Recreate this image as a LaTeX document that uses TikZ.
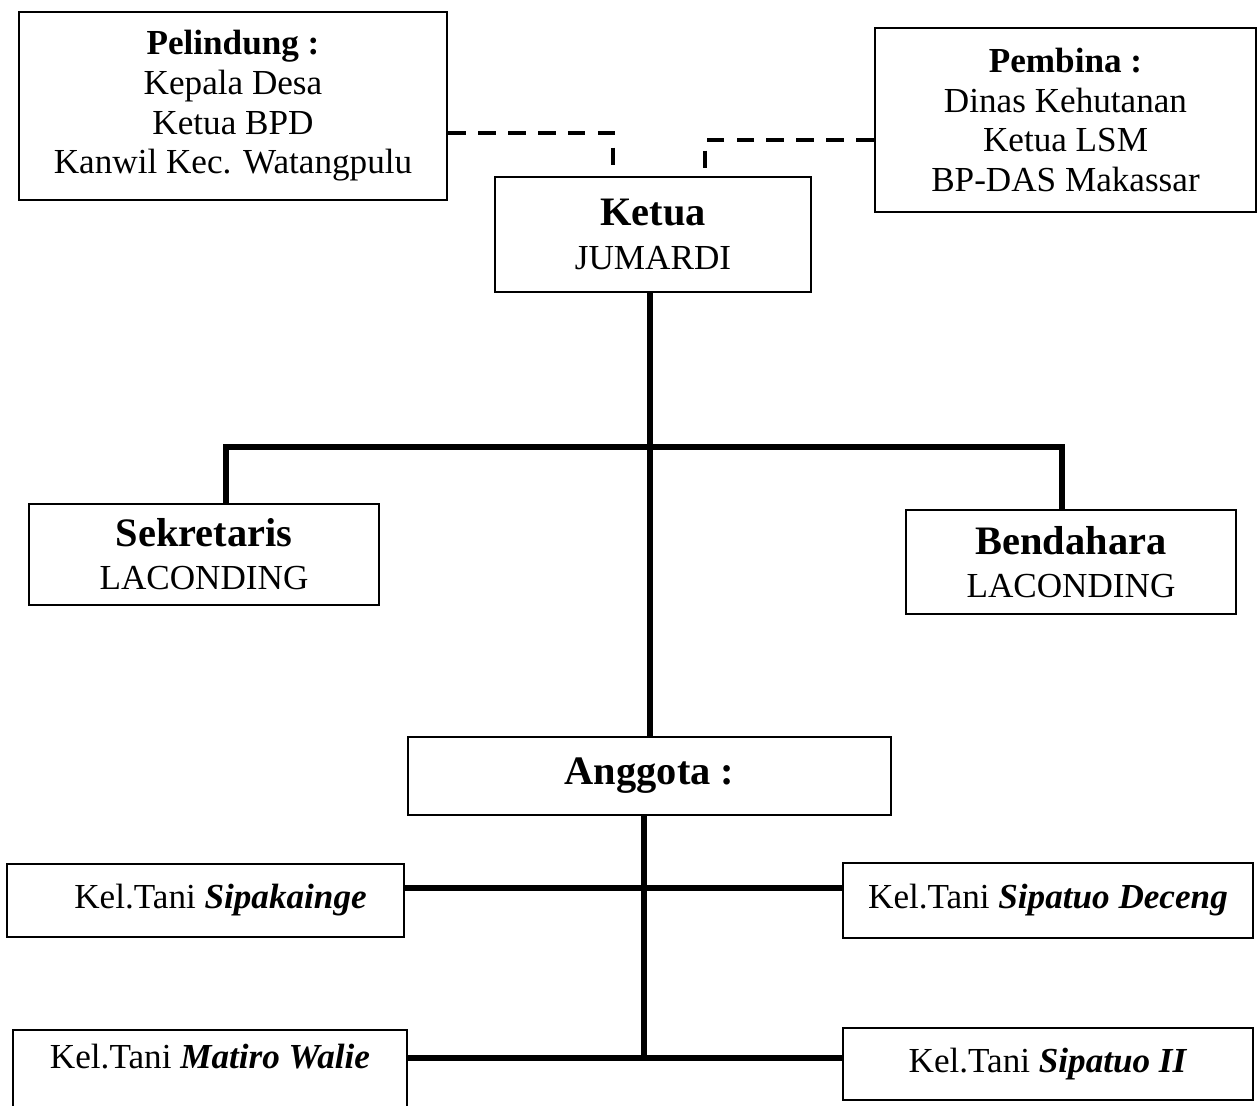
\documentclass[tikz,border=0pt]{standalone}
\usepackage{fontspec}
\setmainfont{Liberation Serif}
\usetikzlibrary{calc}
\newcommand{\jabatan}[1]{{\bfseries\fontsize{11.5}{13}\selectfont #1}}

\begin{document}
\begin{tikzpicture}
	\tikzstyle{every node}=[draw, shape=rectangle, line width=0.8pt, inner sep=0pt, align=center, font=\fontsize{10}{11.3}\selectfont];
	\tikzstyle{tree}=[line width=1.5pt];
	\tikzstyle{garis}=[line width=1pt, dash pattern=on 5pt off 3.5pt];
	\useasboundingbox (0,0) rectangle (12.58,-11.06);
	% pelindung dan pembina
	\node [minimum width=4.28cm, minimum height=1.88cm] (pelindung) at (2.33,-1.06) {\textbf{Pelindung :}\\Kepala Desa\\Ketua BPD\\Kanwil Kec. Watangpulu};
	\node [minimum width=3.81cm, minimum height=1.84cm] (pembina) at (10.655,-1.20) {\textbf{Pembina :}\\Dinas Kehutanan\\Ketua LSM\\BP-DAS Makassar};
	% pengurus
	\node [minimum width=3.16cm, minimum height=1.15cm] (ketua) at (6.53,-2.345) {\jabatan{Ketua}\\[1pt]JUMARDI};
	\node [minimum width=3.50cm, minimum height=1.01cm] (sekretaris) at (2.04,-5.545) {\jabatan{Sekretaris}\\[1pt]LACONDING};
	\node [minimum width=3.30cm, minimum height=1.04cm] (bendahara) at (10.71,-5.62) {\jabatan{Bendahara}\\[1pt]LACONDING};
	\node [minimum width=4.83cm, minimum height=0.78cm] (anggota) at (6.495,-7.76) {\jabatan{Anggota :}};
	% kelompok tani
	\node [minimum width=3.97cm, minimum height=0.73cm] (sipakainge) at (2.055,-9.005) {\hspace*{0.3cm}Kel.Tani \textbf{\textit{Sipakainge}}};
	\node [minimum width=4.10cm, minimum height=0.75cm] (deceng) at (10.48,-9.005) {Kel.Tani \textbf{\textit{Sipatuo Deceng}}};
	\node [minimum width=3.94cm, minimum height=0.80cm, text depth=0.27cm] (matiro) at (2.10,-10.70) {Kel.Tani \textbf{\textit{Matiro Walie}}};
	\node [minimum width=4.10cm, minimum height=0.72cm] (sipatuo) at (10.48,-10.64) {Kel.Tani \textbf{\textit{Sipatuo II}}};
	% titik bantu
	\coordinate (pl) at (6.13,-1.33);
	\coordinate (pb) at (7.05,-1.40);
	\coordinate (j0) at (6.50,-4.47);
	\coordinate (j1) at (6.44,-8.88);
	\coordinate (j2) at (6.44,-10.58);
	% garis
	\draw[garis] (pl -| pelindung.east) -| (ketua.north -| pl);
	\draw[garis] (pb -| pembina.west) -| (ketua.north -| pb);
	\draw[tree] (ketua.south -| j0) -- (anggota.north -| j0);
	\draw[tree] ($(sekretaris.north)+(0.22,0)$) |- (j0) -| ($(bendahara.north)+(-0.09,0)$);
	\draw[tree] (anggota.south -| j1) -- (j2);
	\draw[tree] (j1 -| sipakainge.east) -- (j1 -| deceng.west);
	\draw[tree] (j2 -| matiro.east) -- (j2 -| sipatuo.west);
\end{tikzpicture}
\end{document}
